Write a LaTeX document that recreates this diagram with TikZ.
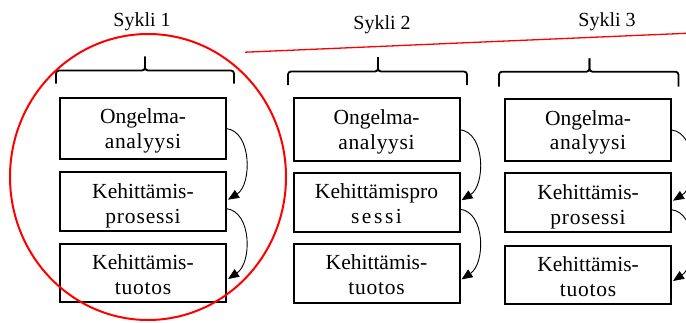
\documentclass[tikz,border=0pt]{standalone}
\usepackage{fontspec}
\setmainfont{Liberation Serif}
\usetikzlibrary{arrows.meta,calc}

% second lines of the box texts are set slightly spread out
\newcommand{\spreadline}[2]{{\addfontfeature{LetterSpace=#1}#2}}

\tikzset{
  stagebox/.style={draw=black, line width=2pt, minimum width=166pt, outer sep=0pt, inner sep=0pt},
  stagetext/.style={font=\fontsize{21.5}{24.5}\selectfont, align=center, inner sep=0pt, anchor=north},
  cyclelabel/.style={font=\fontsize{20}{24}\selectfont, inner sep=0pt, anchor=base},
  bracket/.style={line width=1.8pt, rounded corners=3pt},
  flow/.style={line width=0.9pt, -{Triangle[length=11pt,width=9pt]}},
  highlight/.style={draw=red, line width=2pt}
}

\begin{document}
\begin{tikzpicture}[x=1pt, y=-1pt]
\useasboundingbox (0,0) rectangle (686,322);
\clip (0,0) rectangle (686,322);

% cycle titles
\node[cyclelabel] (s1) at (142,26.5) {Sykli 1};
\node[cyclelabel] (s2) at (382,29.3) {Sykli 2};
\node[cyclelabel] (s3) at (607,26.5) {Sykli 3};

% brackets over each column
\foreach \xa/\xc/\xb/\yt/\ym/\yb in {56/145/234/56.5/70.5/83.5, 288/378/467/57/71.5/85, 499/589.5/678.5/58.3/71.7/86.5}{
  \draw[bracket] (\xa,\yb) -- (\xa,\ym) -- (\xc,\ym) -- (\xc,\yt);
  \draw[bracket] (\xb,\yb) -- (\xb,\ym) -- (\xc,\ym) -- (\xc,\yt);
}

% column 1
\node[stagebox, minimum height=61.5pt] (c1a) at (143,128.6) {};
\node[stagebox, minimum height=58.5pt] (c1b) at (143,201.7) {};
\node[stagebox, minimum height=58.5pt] (c1c) at (143,273) {};
% column 2
\node[stagebox, minimum height=62.5pt] (c2a) at (376.5,129.7) {};
\node[stagebox, minimum height=59pt] (c2b) at (376.5,202.2) {};
\node[stagebox, minimum height=59.5pt] (c2c) at (376.5,273.4) {};
% column 3
\node[stagebox, minimum height=61.5pt] (c3a) at (588,130) {};
\node[stagebox, minimum height=58.5pt] (c3b) at (588,202.7) {};
\node[stagebox, minimum height=58.5pt] (c3c) at (588,275) {};

% box texts
\node[stagetext] (t1a) at ($(c1a.north)+(0,11)$) {Ongelma-\\\spreadline{3}{analyysi}};
\node[stagetext] (t1b) at ($(c1b.north)+(0,11)$) {Kehittämis-\\\spreadline{4}{prosessi}};
\node[stagetext] (t1c) at ($(c1c.north)+(0,11)$) {Kehittämis-\\\spreadline{3.5}{tuotos}};
\node[stagetext] (t2a) at ($(c2a.north)+(0,11)$) {Ongelma-\\\spreadline{3}{analyysi}};
\node[stagetext] (t2b) at ($(c2b.north)+(0,11)$) {Kehittämispro\\\spreadline{12}{sessi}};
\node[stagetext] (t2c) at ($(c2c.north)+(0,11)$) {Kehittämis-\\\spreadline{3.5}{tuotos}};
\node[stagetext] (t3a) at ($(c3a.north)+(0,11)$) {Ongelma-\\\spreadline{3}{analyysi}};
\node[stagetext] (t3b) at ($(c3b.north)+(0,11)$) {Kehittämis-\\\spreadline{4}{prosessi}};
\node[stagetext] (t3c) at ($(c3c.north)+(0,11)$) {Kehittämis-\\\spreadline{3.5}{tuotos}};

% curved arrows between the stages
\foreach \c in {1,2,3}{
  \draw[flow] ($(c\c a.east)+(0.5,0)$) .. controls ($(c\c a.east)+(26,3)$) and ($(c\c b.east)+(26,-17)$) .. ($(c\c b.east)+(2,-2)$);
  \draw[flow] ($(c\c b.east)+(0.5,7)$) .. controls ($(c\c b.east)+(26,10)$) and ($(c\c c.east)+(26,-10)$) .. ($(c\c c.east)+(2,6)$);
}

% emphasis on the first cycle
\draw[highlight] (148,177) ellipse [x radius=138, y radius=143];
\draw[red, line width=1.3pt] (245,52.2) -- (686,33.3);
\end{tikzpicture}
\end{document}
